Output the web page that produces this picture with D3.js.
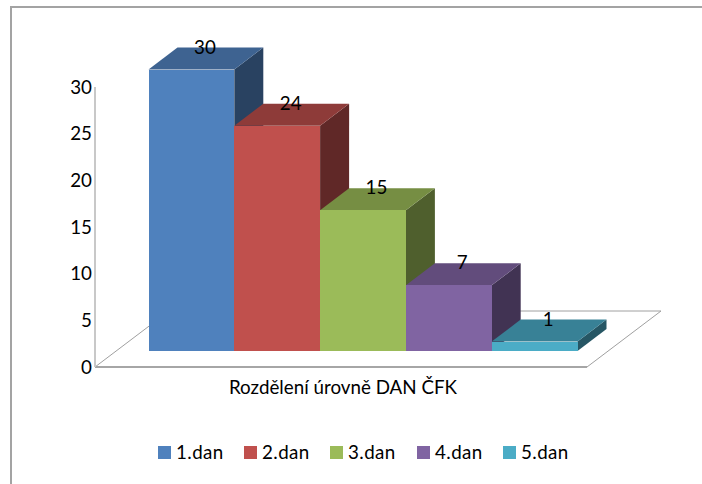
<!DOCTYPE html>
<html><head><meta charset="utf-8">
<style>html,body{margin:0;padding:0;background:#fff}svg{display:block}text{font-family:Lato,"Open Sans",sans-serif;fill:#000}</style>
<script src="https://cdn.jsdelivr.net/npm/d3@7/dist/d3.min.js"></script></head><body>
<script>
const categories=["1.dan","2.dan","3.dan","4.dan","5.dan"];
const values=[30,24,15,7,1];
const frontColors=["#4F81BD","#C0504D","#9BBB59","#8064A2","#4BACC6"];
const topColors=["#3E6391","#8E3B39","#768E43","#624C7C","#388196"];
const sideColors=["#294261","#602827","#4F5F2D","#413353","#265664"];
const ticks=[0,5,10,15,20,25,30];
const axisTitle="Rozdělení úrovně DAN ČFK";

const W=702,H=484,fs="18.8px";
const svg=d3.select("body").append("svg").attr("width",W).attr("height",H);
const gridGrey="#A6A6A6";

// chart frame
svg.append("path").attr("d","M11,484V7H702").attr("fill","none").attr("stroke","#A3A3A3").attr("stroke-width",2);

// scales
const axisY=d3.scaleLinear().domain([0,30]).range([367,87]);
const barY=d3.scaleLinear().domain([0,30]).range([351,69.5]);
const x=d3.scaleBand().domain(categories).range([148.5,577.5]).padding(0);
const dx=29,dy=22;

// floor
const floorFront=[[95,367],[587,367]], floorBack=[[169,311],[661,311]];
svg.append("path").attr("d",d3.line()([floorFront[0],floorBack[0],floorBack[1],floorFront[1]]))
  .attr("fill","none").attr("stroke","#A0A0A0").attr("stroke-width",1);
svg.append("line").attr("x1",95).attr("x2",587).attr("y1",367).attr("y2",367).attr("stroke",gridGrey).attr("stroke-width",2);
svg.append("line").attr("x1",95).attr("x2",95).attr("y1",87).attr("y2",367).attr("stroke","#C8C8C8").attr("stroke-width",2);

// y axis
const yAxis=d3.axisLeft(axisY).tickValues(ticks).tickSize(0).tickPadding(3);
const gy=svg.append("g").attr("transform","translate(95,0)").call(yAxis);
gy.select(".domain").remove();
gy.selectAll("text").style("font-size",fs).style("font-family","Lato").attr("fill","#000");

// bars, left to right so each bar's front overlaps the previous bar's side
const bars=svg.append("g").selectAll("g").data(categories.map((c,i)=>({c,i,v:values[i]}))).join("g");
bars.append("path").attr("fill",d=>sideColors[d.i]).attr("d",d=>{
  const r=x(d.c)+x.bandwidth(),t=barY(d.v),b=barY(0);
  return `M${r},${t}L${r+dx},${t-dy}L${r+dx},${b-dy}L${r},${b}Z`;});
bars.append("path").attr("fill",d=>topColors[d.i]).attr("d",d=>{
  const l=x(d.c),r=l+x.bandwidth(),t=barY(d.v);
  return `M${l},${t}L${l+dx},${t-dy}L${r+dx},${t-dy}L${r},${t}Z`;});
bars.append("rect").attr("fill",d=>frontColors[d.i]).attr("shape-rendering","crispEdges")
  .attr("x",d=>x(d.c)).attr("y",d=>barY(d.v)).attr("width",x.bandwidth()).attr("height",d=>barY(0)-barY(d.v));
// value labels
svg.append("g").selectAll("text").data(values).join("text")
  .attr("x",(v,i)=>x(categories[i])+x.bandwidth()/2+13.5).attr("y",v=>barY(v)-dy+6)
  .attr("text-anchor","middle").style("font-size",fs).text(v=>v);

// axis title
svg.append("text").attr("x",343).attr("y",394).attr("text-anchor","middle").style("font-size",fs).text(axisTitle);

// legend
const legX=[158,244,330,417,503];
const leg=svg.append("g").selectAll("g").data(categories).join("g").attr("transform",(c,i)=>`translate(${legX[i]},446)`);
leg.append("rect").attr("width",13).attr("height",13).attr("fill",(c,i)=>frontColors[i]);
leg.append("text").attr("x",18).attr("y",12.5).style("font-size",fs).style("letter-spacing","0.4px").text(c=>c);
</script></body></html>
